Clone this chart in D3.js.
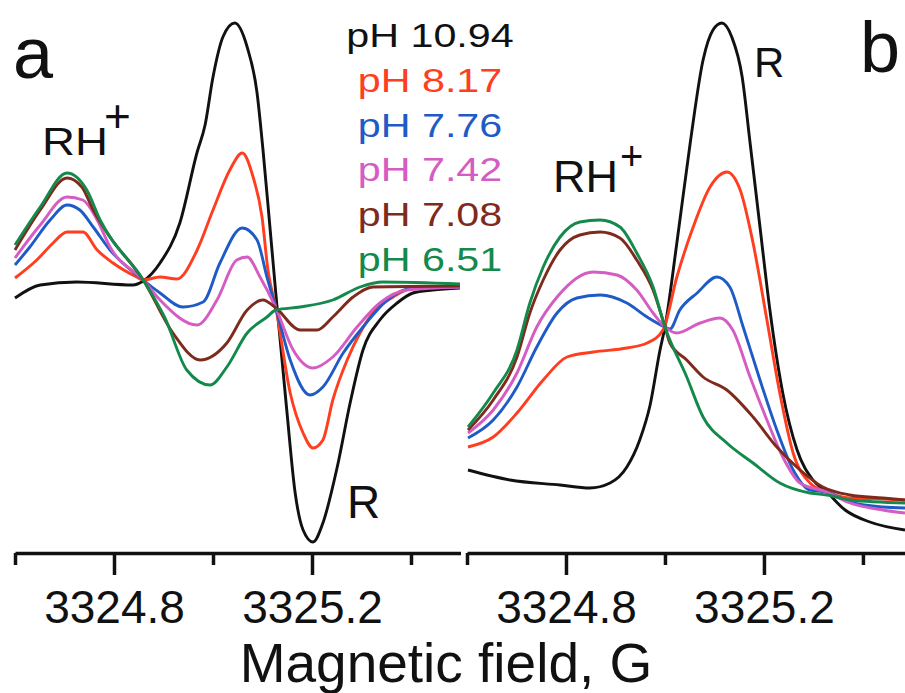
<!DOCTYPE html>
<html>
<head>
<meta charset="utf-8">
<script src="https://cdn.jsdelivr.net/npm/d3@7"></script>
<style>
body { margin: 0; background: #fff; }
svg { display: block; font-family: "Liberation Sans", Arial, Helvetica, sans-serif; }
</style>
</head>
<body>
<script>
// legend labels, one per pH
var phLabels = ["pH 10.94", "pH 8.17", "pH 7.76", "pH 7.42", "pH 7.08", "pH 6.51"];

// axis ticks (magnetic field, G)
var majorTicks = [3324.8, 3325.2];
var minorTicks = [3324.6, 3325.0, 3325.4];

// panel a: first-derivative EPR spectra, [field G, signal a.u.]
var derivPH1094 = [[3324.600,-8],[3324.651,5],[3324.725,8],[3324.838,5],[3324.859,9],[3324.893,27],[3324.933,67],[3324.968,138],[3324.984,165],[3325.000,213],[3325.020,253],[3325.044,267],[3325.069,243],[3325.089,197],[3325.101,140],[3325.115,63],[3325.129,-15],[3325.149,-120],[3325.166,-203],[3325.182,-240],[3325.202,-252],[3325.222,-233],[3325.251,-177],[3325.277,-113],[3325.303,-60],[3325.337,-30],[3325.372,-13],[3325.404,-3],[3325.444,0],[3325.499,2]];
var derivPH817 = [[3324.600,12],[3324.644,30],[3324.677,47],[3324.705,58],[3324.737,58],[3324.766,40],[3324.798,27],[3324.846,13],[3324.859,10],[3324.893,13],[3324.927,11],[3324.968,40],[3325.000,80],[3325.034,120],[3325.059,137],[3325.081,113],[3325.099,73],[3325.111,20],[3325.127,-18],[3325.156,-103],[3325.182,-143],[3325.202,-158],[3325.222,-150],[3325.242,-110],[3325.271,-70],[3325.297,-43],[3325.323,-23],[3325.364,-7],[3325.404,2],[3325.499,3]];
var derivPH776 = [[3324.600,25],[3324.630,43],[3324.671,70],[3324.705,85],[3324.731,80],[3324.758,63],[3324.792,40],[3324.859,10],[3324.893,-3],[3324.939,-17],[3324.980,-12],[3325.014,27],[3325.059,62],[3325.089,50],[3325.109,13],[3325.127,-18],[3325.156,-70],[3325.196,-105],[3325.222,-97],[3325.263,-63],[3325.303,-37],[3325.352,-10],[3325.404,2],[3325.499,3]];
var derivPH742 = [[3324.600,32],[3324.651,65],[3324.705,93],[3324.737,90],[3324.766,70],[3324.792,43],[3324.859,10],[3324.893,-10],[3324.968,-35],[3325.008,-10],[3325.048,30],[3325.069,33],[3325.095,13],[3325.127,-18],[3325.162,-60],[3325.202,-78],[3325.242,-67],[3325.291,-37],[3325.337,-13],[3325.392,0],[3325.499,3]];
var derivPH708 = [[3324.600,40],[3324.651,80],[3324.705,112],[3324.735,103],[3324.758,80],[3324.792,53],[3324.859,10],[3324.919,-43],[3324.974,-70],[3325.028,-53],[3325.069,-20],[3325.101,-10],[3325.127,-18],[3325.176,-40],[3325.210,-40],[3325.242,-27],[3325.283,-7],[3325.323,3],[3325.499,4]];
var derivPH651 = [[3324.600,45],[3324.651,83],[3324.705,117],[3324.745,100],[3324.772,70],[3324.859,10],[3324.903,-28],[3324.947,-80],[3324.994,-95],[3325.028,-77],[3325.069,-43],[3325.109,-27],[3325.127,-20],[3325.176,-17],[3325.242,-10],[3325.297,3],[3325.343,8],[3325.499,6]];

// panel b: integrated (absorption) spectra, [field G, intensity a.u.]
var absPH1094 = [[3324.602,65],[3324.687,55],[3324.788,50],[3324.848,47],[3324.889,52],[3324.923,68],[3324.949,95],[3324.970,130],[3324.990,185],[3325.000,208],[3325.024,292],[3325.051,392],[3325.077,475],[3325.097,505],[3325.115,512],[3325.135,498],[3325.156,458],[3325.172,392],[3325.192,308],[3325.212,225],[3325.238,142],[3325.267,85],[3325.299,55],[3325.327,43],[3325.364,25],[3325.414,13],[3325.485,5]];
var absPH817 = [[3324.602,88],[3324.653,98],[3324.701,122],[3324.754,155],[3324.802,178],[3324.855,183],[3324.923,187],[3324.964,192],[3324.996,205],[3325.024,258],[3325.057,308],[3325.091,348],[3325.125,363],[3325.152,345],[3325.178,292],[3325.206,215],[3325.232,142],[3325.259,82],[3325.293,52],[3325.327,43],[3325.374,37],[3325.440,36],[3325.485,35]];
var absPH776 = [[3324.602,97],[3324.653,115],[3324.701,148],[3324.741,188],[3324.782,222],[3324.822,237],[3324.869,240],[3324.923,232],[3324.964,218],[3325.000,208],[3325.010,206],[3325.030,225],[3325.065,242],[3325.105,258],[3325.131,248],[3325.158,208],[3325.192,155],[3325.226,105],[3325.259,65],[3325.293,45],[3325.327,43],[3325.374,33],[3325.440,28],[3325.485,27]];
var absPH742 = [[3324.602,102],[3324.653,125],[3324.701,162],[3324.741,208],[3324.782,238],[3324.855,263],[3324.903,260],[3324.943,245],[3324.976,222],[3325.000,208],[3325.024,202],[3325.071,212],[3325.111,217],[3325.137,205],[3325.172,158],[3325.206,115],[3325.238,78],[3325.273,52],[3325.327,43],[3325.374,32],[3325.440,25],[3325.485,22]];
var absPH708 = [[3324.602,105],[3324.653,135],[3324.701,178],[3324.727,222],[3324.754,255],[3324.788,285],[3324.828,300],[3324.869,303],[3324.909,297],[3324.943,275],[3324.976,245],[3325.000,208],[3325.010,192],[3325.044,175],[3325.077,158],[3325.125,145],[3325.178,118],[3325.226,88],[3325.273,65],[3325.319,48],[3325.374,40],[3325.440,37],[3325.485,35]];
var absPH651 = [[3324.602,108],[3324.653,142],[3324.701,185],[3324.727,232],[3324.754,268],[3324.788,298],[3324.828,313],[3324.869,315],[3324.909,308],[3324.943,282],[3324.976,248],[3325.000,208],[3325.044,158],[3325.077,118],[3325.125,92],[3325.178,72],[3325.232,52],[3325.293,42],[3325.327,40],[3325.374,35],[3325.485,32]];

var panelA = [derivPH1094, derivPH817, derivPH776, derivPH742, derivPH708, derivPH651];
var panelB = [absPH1094, absPH817, absPH776, absPH742, absPH708, absPH651];

// colour per pH
var colors = ["#111111", "#ff3d1f", "#1f5bc6", "#d45cc2", "#7e2a1c", "#13894b"];

var width = 905, height = 693;
var axisY = 553;

var svg = d3.select("body").append("svg")
    .attr("width", width)
    .attr("height", height);

var xA = d3.scaleLinear().domain([3324.6, 3325.5]).range([15, 460.5]);
var xB = d3.scaleLinear().domain([3324.6, 3325.485]).range([467, 905]);
var yA = d3.scaleLinear().domain([-260, 290]).range([550, 0]);
var yB = d3.scaleLinear().domain([0, 535]).range([535, 0]);

function drawCurves(series, x, y) {
    var line = d3.line()
        .x(function(d) { return x(d[0]); })
        .y(function(d) { return y(d[1]); })
        .curve(d3.curveMonotoneX);
    svg.append("g").selectAll("path")
        .data(series)
        .enter().append("path")
        .attr("d", line)
        .attr("fill", "none")
        .attr("stroke", function(d, i) { return colors[i]; })
        .attr("stroke-width", 2.9)
        .attr("stroke-linejoin", "round");
}

drawCurves(panelA, xA, yA);
drawCurves(panelB, xB, yB);

function drawAxis(x) {
    var gMin = svg.append("g")
        .attr("transform", "translate(0," + axisY + ")")
        .call(d3.axisBottom(x).tickValues(minorTicks).tickSize(12).tickSizeOuter(0).tickFormat(""));
    var gMaj = svg.append("g")
        .attr("transform", "translate(0," + axisY + ")")
        .call(d3.axisBottom(x).tickValues(majorTicks).tickSize(22).tickSizeOuter(0).tickFormat(d3.format(".1f")));
    gMaj.select(".domain").remove();
    [gMin, gMaj].forEach(function(g) {
        g.select(".domain").attr("stroke", "#111").attr("stroke-width", 3.5);
        g.selectAll(".tick line").attr("stroke", "#111").attr("stroke-width", 3.5);
        g.selectAll(".tick text")
            .attr("y", 70)
            .attr("dy", 0)
            .attr("fill", "#111")
            .style("font-size", "46px")
            .style("font-family", "'Liberation Sans', Arial, sans-serif");
    });
}

drawAxis(xA);
drawAxis(xB);

svg.append("text")
    .attr("x", 446)
    .attr("y", 682)
    .attr("text-anchor", "middle")
    .style("font-size", "55px")
    .attr("fill", "#111")
    .text("Magnetic field, G");

// panel letters
svg.append("text").attr("x", 13).attr("y", 78).style("font-size", "72px").attr("fill", "#111").text("a");
svg.append("text").attr("x", 860).attr("y", 72).style("font-size", "72px").attr("fill", "#111").text("b");

// species labels
function label(x, y, size, txt, stretch) {
    var t = svg.append("text")
        .attr("x", x).attr("y", y)
        .style("font-size", size + "px")
        .attr("fill", "#111")
        .text(txt);
    if (stretch) {
        t.attr("textLength", t.node().getComputedTextLength() * stretch)
         .attr("lengthAdjust", "spacingAndGlyphs");
    }
    return t;
}
label(42, 155, 38, "RH", 1.2);
label(104, 132, 46, "+");
label(553, 192, 45, "RH");
label(620, 170, 40, "+");
label(347, 518, 46, "R");
label(754, 77, 42, "R");

// legend
var legend = svg.append("g").attr("class", "legend");
legend.selectAll("text")
    .data(phLabels)
    .enter().append("text")
    .attr("x", 430)
    .attr("y", function(d, i) { return 47 + i * 44.8; })
    .attr("text-anchor", "middle")
    .style("font-size", "33px")
    .attr("fill", function(d, i) { return colors[i]; })
    .text(function(d) { return d; })
    .each(function() {
        d3.select(this)
            .attr("textLength", this.getComputedTextLength() * 1.25)
            .attr("lengthAdjust", "spacingAndGlyphs");
    });
</script>
</body>
</html>
